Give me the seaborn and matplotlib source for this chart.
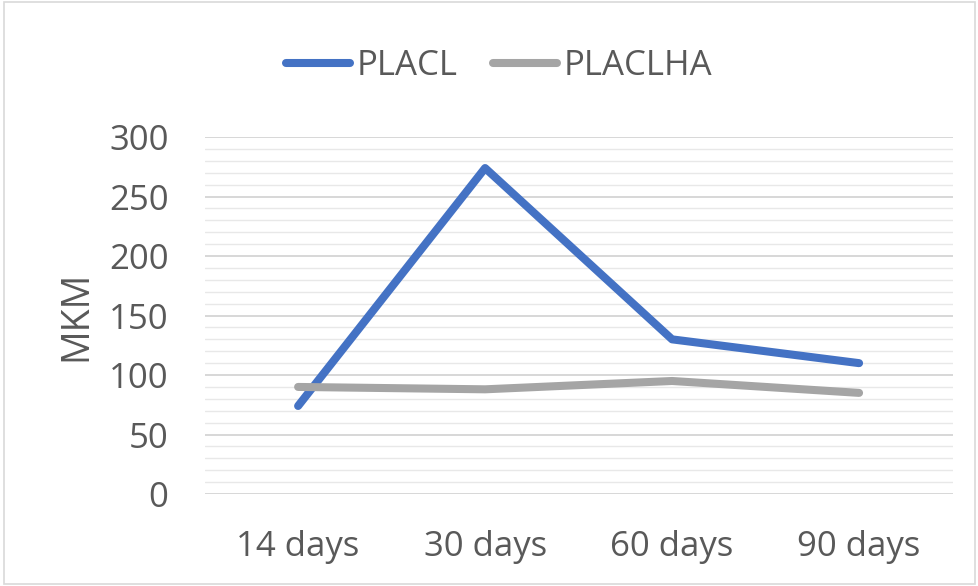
import pandas as pd
import numpy as np
import matplotlib
matplotlib.use("Agg")
import matplotlib.pyplot as plt
import seaborn as sns
from matplotlib.ticker import MultipleLocator

days = ['14 days', '30 days', '60 days', '90 days']
placl = [74, 274, 130, 110]
placlha = [90, 88, 95, 85]
series_names = ['PLACL', 'PLACLHA']
colors = ['#4472C4', '#A5A5A5']

sns.set_theme(style='white')
plt.rcParams['font.family'] = ['Open Sans', 'DejaVu Sans']

df = pd.DataFrame({
    'day': days * 2,
    'pos': list(range(len(days))) * 2,
    'value': placl + placlha,
    'series': [series_names[0]] * len(days) + [series_names[1]] * len(days),
})

fig = plt.figure(figsize=(9.79, 5.86), dpi=100)
ax = fig.add_axes([0.209, 0.157, 0.764, 0.609])

sns.lineplot(data=df, x='pos', y='value', hue='series', palette=colors,
             linewidth=5.8, ax=ax, legend=False, solid_capstyle='round')

ax.set_xlim(-0.5, 3.5)
ax.set_ylim(0, 300)
ax.set_xticks(range(len(days)))
ax.set_xticklabels(days)
ax.yaxis.set_major_locator(MultipleLocator(50))
ax.yaxis.set_minor_locator(MultipleLocator(10))
ax.grid(which='major', axis='y', color='#d4d4d4', linewidth=1.3)
ax.grid(which='minor', axis='y', color='#e8e8e8', linewidth=1.0)
ax.set_axisbelow(True)
for s in ax.spines.values():
    s.set_visible(False)
ax.tick_params(axis='both', which='both', length=0, labelsize=25, colors='#595959', pad=26)
ax.set_xlabel('')
ax.set_ylabel('MKM', fontsize=27, color='#595959', labelpad=10)

handles = [plt.Line2D([], [], color=c, linewidth=5.8, solid_capstyle='round') for c in colors]
fig.legend(handles, series_names, loc='center', bbox_to_anchor=(0.51, 0.887), ncol=2,
           frameon=False, fontsize=25, labelcolor='#595959', handlelength=1.85,
           handletextpad=0.2, columnspacing=1.0)

fig.patches.append(plt.Rectangle((0.004, 0.004), 0.992, 0.992, transform=fig.transFigure,
                                 fill=False, edgecolor='#d9d9d9', linewidth=1.2))

fig.savefig('out.png', dpi=100)
